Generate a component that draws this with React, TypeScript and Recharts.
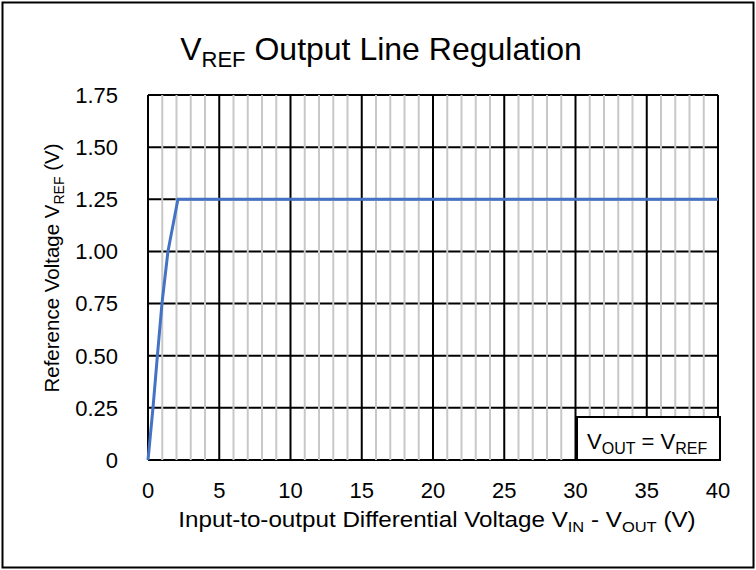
import React from "react";
import { LineChart, Line, XAxis, YAxis, CartesianGrid, ReferenceLine } from "recharts";

// measured curve: input-output differential (V) vs reference voltage (V)
const diffVoltage = [0, 0.35, 0.66, 0.98, 1.4, 2.1, 40];
const refVoltage = [0, 0.25, 0.5, 0.75, 1.0, 1.25, 1.25];

const xTicks = [0, 5, 10, 15, 20, 25, 30, 35, 40];
const yTicks = [0, 0.25, 0.5, 0.75, 1.0, 1.25, 1.5, 1.75];
const minorX = Array.from({ length: 41 }, (_, i) => i).filter((v) => v % 5 !== 0);

const data = diffVoltage.map((x, i) => ({ x, v: refVoltage[i] }));

const FONT = "'Liberation Sans', Arial, sans-serif";

export default function App() {
  return (
    <div style={{ position: "absolute", left: 0, top: 0, width: 756, height: 570, background: "#fff", fontFamily: FONT }}>
      <LineChart
        width={756}
        height={570}
        data={data}
        margin={{ top: 95, right: 38, bottom: 80, left: 0 }}
      >
        {minorX.map((v) => (
          <ReferenceLine key={v} x={v} stroke="#c8c8c8" strokeWidth={2} ifOverflow="extendDomain" />
        ))}
        <CartesianGrid stroke="#000" strokeWidth={2} />
        <XAxis
          dataKey="x"
          type="number"
          domain={[0, 40]}
          ticks={xTicks}
          height={30}
          axisLine={false}
          tickLine={false}
          tickSize={0}
          tickMargin={22}
          tick={{ fill: "#000", fontSize: 22, fontFamily: FONT }}
        />
        <YAxis
          type="number"
          domain={[0, 1.75]}
          ticks={yTicks}
          width={148}
          axisLine={false}
          tickLine={false}
          tickSize={0}
          tickMargin={30}
          tickFormatter={(v: number) => (v === 0 ? "0" : v.toFixed(2))}
          tick={{ fill: "#000", fontSize: 22, fontFamily: FONT }}
        />
        <Line
          type="linear"
          dataKey="v"
          stroke="#4472C4"
          strokeWidth={3}
          dot={false}
          isAnimationActive={false}
        />
      </LineChart>
      <svg
        width={756}
        height={570}
        style={{ position: "absolute", left: 0, top: 0, pointerEvents: "none" }}
        fontFamily={FONT}
      >
        <rect x={2.5} y={2.5} width={751} height={565} fill="none" stroke="#000" strokeWidth={2} />
        <text x={381} y={60} textAnchor="middle" fontSize={32} fill="#000">
          V<tspan fontSize={22} dy={7}>REF</tspan>
          <tspan dy={-7}> Output Line Regulation</tspan>
        </text>
        <text transform="translate(437,527) scale(1.1,1)" textAnchor="middle" fontSize={22} fill="#000">
          Input-to-output Differential Voltage V<tspan fontSize={15} dy={5}>IN</tspan>
          <tspan dy={-5}> - V</tspan>
          <tspan fontSize={15} dy={5}>OUT</tspan>
          <tspan dy={-5}> (V)</tspan>
        </text>
        <text
          transform="translate(59,268) rotate(-90)"
          textAnchor="middle"
          fontSize={20.5}
          fill="#000"
        >
          Reference Voltage V<tspan fontSize={14} dy={5}>REF</tspan>
          <tspan dy={-5}> (V)</tspan>
        </text>
        <rect x={577} y={417} width={143} height={43} fill="#fff" stroke="#000" strokeWidth={2} />
        <text x={587} y={449} fontSize={22} fill="#000">
          V<tspan fontSize={16} dy={5}>OUT</tspan>
          <tspan dy={-5}> = V</tspan>
          <tspan fontSize={16} dy={5}>REF</tspan>
        </text>
      </svg>
    </div>
  );
}
